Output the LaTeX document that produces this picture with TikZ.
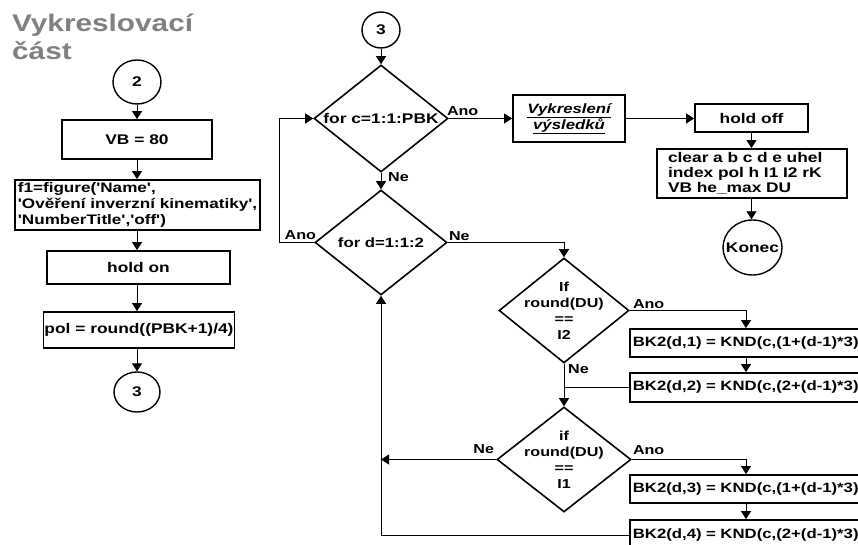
\documentclass[tikz,border=0pt]{standalone}
\usepackage{fontspec}
\newfontfamily\fsans[FakeStretch=1.24]{Liberation Sans}
\usetikzlibrary{shapes.geometric,arrows.meta}
\definecolor{titlegray}{RGB}{128,128,128}
\begin{document}
\begin{tikzpicture}[x=1pt,y=-1pt,
  every node/.style={font=\fsans\bfseries\fontsize{14}{16}\selectfont},
  box/.style={draw,line width=1.8pt,inner sep=2pt},
  dia/.style={draw,diamond,line width=1.6pt,inner sep=0pt},
  term/.style={draw,ellipse,line width=1.4pt,inner sep=0pt},
  conn/.style={line width=0.9pt},
  arr/.style={conn,-{Triangle[length=8pt,width=10pt]}},
  lab/.style={font=\fsans\bfseries\fontsize{13}{14}\selectfont,inner sep=0pt},
  dtext/.style={align=center,font=\fsans\bfseries\fontsize{13}{16}\selectfont},
  bkbox/.style={box,anchor=west,text width=262pt,align=left,inner xsep=3pt,font=\fsans\bfseries\fontsize{13.5}{16}\selectfont},
  title/.style={anchor=base west,text=titlegray,inner sep=0pt,font=\fsans\bfseries\fontsize{24}{28}\selectfont},
]
\useasboundingbox (0,0) rectangle (858,545);
\fill[white] (0,0) rectangle (858,545);
\clip (0,0) rectangle (858,545);

% title
\node[title] (t1) at (12,32) {Vykreslovací};
\node[title] (t2) at (12,60) {část};

% left column
\node[term,minimum width=48pt,minimum height=44pt] (c2) at (137,82) {2};
\node[box,minimum width=150pt,minimum height=39pt] (vb) at (137,139.5) {VB = 80};
\node[box,minimum width=245pt,minimum height=50pt,align=left,inner xsep=1pt,
  font=\fsans\bfseries\fontsize{13.8}{16}\selectfont] (f1) at (137.5,205)
  {f1=figure('Name',\\'Ověření inverzní kinematiky',\\'NumberTitle','off')};
\node[box,minimum width=183pt,minimum height=33pt] (hon) at (138.5,267.5) {hold on};
\node[box,minimum width=188pt,minimum height=36pt,inner xsep=1pt] (pol) at (139,330) {pol = round((PBK+1)/4)};
\node[term,minimum width=46pt,minimum height=40pt] (c3) at (137,392) {3};

\draw[arr] (c2.south) -- (c2.south |- vb.north);
\draw[arr] (vb.south) -- (vb.south |- f1.north);
\draw[arr] (vb.south |- f1.south) -- (vb.south |- hon.north);
\draw[arr] (vb.south |- hon.south) -- (vb.south |- pol.north);
\draw[arr] (vb.south |- pol.south) -- (c3.north);

% middle / right
\coordinate (colx) at (746,0);
\coordinate (vx) at (381,0);
\coordinate (lx) at (279,0);

\node[term,minimum width=38pt,minimum height=36pt] (m3) at (381,30) {3};
\node[dia,minimum width=134pt,minimum height=107pt,
  label={[font=\fsans\bfseries\fontsize{14}{16}\selectfont]center:{for c=1:1:PBK}}] (d1) at (381,118.5) {};
\node[dia,minimum width=132pt,minimum height=105pt,
  label={[font=\fsans\bfseries\fontsize{13.5}{16}\selectfont]center:{for d=1:1:2}}] (d2) at (381,242.5) {};
\node[box,minimum width=112pt,minimum height=47pt,align=center,
  font=\fsans\bfseries\itshape\fontsize{13.5}{16}\selectfont] (vyk) at (569,118.5)
  {\underline{Vykreslení}\\\underline{výsledků}};
\node[box,minimum width=113pt,minimum height=28pt] (hoff) at (751.5,118) {hold off};
\node[box,minimum width=190pt,minimum height=49pt,inner xsep=11pt,text width=168pt,align=left,
  font=\fsans\bfseries\fontsize{14}{15}\selectfont] (clr) at (752,173.5)
  {clear a b c d e uhel\\index pol h I1 I2 rK\\VB he\_max DU};
\node[term,minimum width=59pt,minimum height=55pt,label={center:Konec}] (kon) at (752.5,247.5) {};

\node[dia,minimum width=130pt,minimum height=105pt,
  label={[dtext]center:{If\\round(DU)\\==\\I2}}] (d3) at (564,310.5) {};
\node[dia,minimum width=134pt,minimum height=105pt,
  label={[dtext]center:{if\\round(DU)\\==\\I1}}] (d4) at (564,459.5) {};

\node[bkbox,minimum height=28pt] (bk1) at (629,343) {BK2(d,1) = KND(c,(1+(d-1)*3))};
\node[bkbox,minimum height=29pt] (bk2) at (629,387.5) {BK2(d,2) = KND(c,(2+(d-1)*3))};
\node[bkbox,minimum height=28pt] (bk3) at (629,489) {BK2(d,3) = KND(c,(1+(d-1)*3))};
\node[bkbox,minimum height=30pt] (bk4) at (629,535) {BK2(d,4) = KND(c,(2+(d-1)*3))};

% labels
\node[lab,anchor=base west] (l1) at ([xshift=-2pt,yshift=3pt]d1.east) {Ano};
\node[lab,anchor=base west] (l2) at ([xshift=7pt,yshift=-9pt]d1.south) {Ne};
\node[lab,anchor=base east] (l3) at ([xshift=2pt,yshift=3pt]d2.west) {Ano};
\node[lab,anchor=base west] (l4) at ([xshift=1pt,yshift=2pt]d2.east) {Ne};
\node[lab,anchor=base west] (l5) at ([xshift=3pt,yshift=2pt]d3.east) {Ano};
\node[lab,anchor=base west] (l6) at ([xshift=4pt,yshift=-10pt]d3.south) {Ne};
\node[lab,anchor=base east] (l7) at ([xshift=-2pt,yshift=6pt]d4.west) {Ne};
\node[lab,anchor=base west] (l8) at ([xshift=1pt,yshift=5pt]d4.east) {Ano};

% connectors
\draw[arr] (m3.south) -- (d1.north);
\draw[arr] (d1.east) -- (vyk.west);
\draw[arr] (vyk.east) -- (vyk.east -| hoff.west);
\draw[arr] (hoff.south) -- (hoff.south |- clr.north);
\draw[arr] (hoff.south |- clr.south) -- (hoff.south |- kon.north);
\draw[arr] (d1.south) -- (d2.north);
\draw[arr] (d2.west) -- (d2.west -| lx) -- (d1.west -| lx) -- (d1.west);
\draw[arr] (d2.east) -- (d2.east -| d3.north) -- (d3.north);
\draw[arr] (d3.east) -- (d3.east -| colx) -- (bk1.north -| colx);
\draw[arr] (bk1.south -| colx) -- (bk2.north -| colx);
\draw[arr] (d3.south) -- (d4.north);
\draw[conn] (bk2.west) -- (bk2.west -| d3.south);
\draw[arr] (d4.east) -- (d4.east -| colx) -- (bk3.north -| colx);
\draw[arr] (bk3.south -| colx) -- (bk4.north -| colx);
\draw[arr] (bk4.west) -- (bk4.west -| vx) -- (d2.south);
\draw[arr] (d4.west) -- (d4.west -| vx);
\end{tikzpicture}
\end{document}
